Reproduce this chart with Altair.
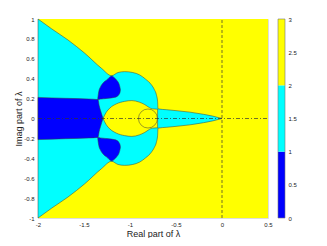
import altair as alt
import pandas as pd

# ---- data ----
# outer cyan region, upper boundary (lower boundary is its mirror image)
outer_x = [-2.0, -1.85, -1.674, -1.492, -1.311, -1.2, -1.13, -1.058, -0.97, -0.895,
           -0.83, -0.767, -0.735, -0.713, -0.70, -0.696, -0.6, -0.5, -0.35, -0.2, -0.1, 0.0]
outer_y = [1.0, 0.9, 0.789, 0.656, 0.505, 0.43, 0.462, 0.471, 0.462, 0.438,
           0.395, 0.338, 0.29, 0.238, 0.17, 0.097, 0.088, 0.079, 0.064, 0.042, 0.024, 0.0]

# inner yellow lens, upper boundary
inner_x = [-1.293, -1.26, -1.22, -1.148, -1.06, -0.98, -0.9, -0.84, -0.79, -0.76, -0.70]
inner_y = [0.0, 0.06, 0.104, 0.147, 0.172, 0.18, 0.165, 0.14, 0.11, 0.097, 0.094]

# dark blue strip, upper boundary
strip_x = [-2.0, -1.7, -1.45, -1.348, -1.335, -1.32, -1.293]
strip_y = [0.212, 0.203, 0.196, 0.19, 0.13, 0.08, 0.0]

# dark blue lobes (upper one; lower one mirrored)
blob_x = [-1.35, -1.34, -1.32, -1.29, -1.25, -1.2, -1.17, -1.14, -1.12, -1.108, -1.104]
blob_top = [0.205, 0.27, 0.32, 0.36, 0.39, 0.428, 0.41, 0.38, 0.35, 0.31, 0.288]
blob_bot = [0.19, 0.192, 0.195, 0.198, 0.202, 0.207, 0.212, 0.222, 0.24, 0.265, 0.288]

# small circle
circle_x = [-0.805]
circle_y = [0.0]

# colorbar bands
cb_lo = [0, 1, 2]
cb_hi = [1, 2, 3]
cb_col = ["#0000FF", "#00FFFF", "#FFFF00"]

x_ticks = [-2, -1.5, -1, -0.5, 0, 0.5]
y_ticks = [-1, -0.8, -0.6, -0.4, -0.2, 0, 0.2, 0.4, 0.6, 0.8, 1]
cb_ticks = [0, 0.5, 1, 1.5, 2, 2.5, 3]

BLUE, CYAN, YELLOW = "#0000FF", "#00FFFF", "#FFFF00"
EDGE = "#3a3a3a"
FONT = "Liberation Sans"
INTERP = "monotone"

xs = alt.Scale(domain=[-2, 0.5], nice=False, zero=False)
ys = alt.Scale(domain=[-1, 1], nice=False, zero=False)

common_axis = dict(ticks=False, domain=False, labelExpr="datum.value + ''",
                   labelFontSize=6, labelColor="#222", labelFont=FONT,
                   labelOverlap=False, labelFlush=False, grid=False,
                   titleFontSize=9, titleFontWeight="normal", titleColor="#222",
                   titleFont=FONT)
x_axis = alt.Axis(values=x_ticks, title="Real part of λ", labelPadding=3, titlePadding=2,
                  **common_axis)
y_axis = alt.Axis(values=y_ticks, title="Imag part of λ", labelPadding=4, titlePadding=0,
                  **common_axis)


def X(field):
    return alt.X(field, type="quantitative", scale=xs, axis=x_axis)


def Y(field):
    return alt.Y(field, type="quantitative", scale=ys, axis=y_axis)


bg_df = pd.DataFrame({"x": [-2], "x2": [0.5], "y": [-1], "y2": [1]})
bg = alt.Chart(bg_df).mark_rect(fill=YELLOW, strokeWidth=0).encode(
    x=X("x"), x2="x2", y=Y("y"), y2="y2")

outer_df = pd.DataFrame({"x": outer_x, "t": outer_y, "b": [-v for v in outer_y]})
outer = alt.Chart(outer_df).mark_area(fill=CYAN, stroke=EDGE, strokeWidth=0.5, fillOpacity=1,
                                      interpolate=INTERP).encode(
    x=X("x"), y=Y("t"), y2="b")

inner_df = pd.DataFrame({"x": inner_x, "t": inner_y, "b": [-v for v in inner_y]})
inner = alt.Chart(inner_df).mark_area(fill=YELLOW, stroke=EDGE, strokeWidth=0.5, fillOpacity=1,
                                      interpolate=INTERP).encode(
    x=X("x"), y=Y("t"), y2="b")

strip_df = pd.DataFrame({"x": strip_x, "t": strip_y, "b": [-v for v in strip_y]})
strip = alt.Chart(strip_df).mark_area(fill=BLUE, stroke=EDGE, strokeWidth=0.5, fillOpacity=1,
                                      interpolate=INTERP).encode(
    x=X("x"), y=Y("t"), y2="b")

blob_df = pd.concat([
    pd.DataFrame({"x": blob_x, "t": blob_top, "b": blob_bot, "part": "up"}),
    pd.DataFrame({"x": blob_x, "t": [-v for v in blob_top], "b": [-v for v in blob_bot], "part": "down"}),
])
blobs = alt.Chart(blob_df).mark_area(fill=BLUE, stroke=EDGE, strokeWidth=0.5, fillOpacity=1,
                                     interpolate=INTERP).encode(
    x=X("x"), y=Y("t"), y2="b", detail="part:N")

circ_df = pd.DataFrame({"x": circle_x, "y": circle_y})
circ = alt.Chart(circ_df).mark_point(shape="circle", filled=False, size=361, stroke=EDGE,
                                     strokeWidth=0.5, opacity=1).encode(
    x=X("x"), y=Y("y"))

hline = alt.Chart(pd.DataFrame({"x": [-2], "x2": [0.5], "y": [0]})).mark_rule(
    color="#333", strokeWidth=0.7, strokeDash=[4, 2, 1, 2]).encode(
    x=X("x"), x2="x2", y=Y("y"))
vline = alt.Chart(pd.DataFrame({"x": [0], "y": [-1], "y2": [1]})).mark_rule(
    color="#333", strokeWidth=0.7, strokeDash=[3, 2]).encode(
    x=X("x"), y=Y("y"), y2="y2")

main = alt.layer(bg, outer, inner, strip, blobs, circ, hline, vline)

cb_df = pd.DataFrame({"lo": cb_lo, "hi": cb_hi, "c": cb_col})
cb_axis = alt.Axis(values=cb_ticks, orient="right", offset=17, title=None, labelPadding=3,
                   **{k: v for k, v in common_axis.items() if not k.startswith("title")})
cbs = alt.Scale(domain=[0, 3], nice=False, zero=False)
cbar = alt.Chart(cb_df).mark_rect(strokeWidth=0).encode(
    x=alt.value(240), x2=alt.value(247),
    y=alt.Y("lo:Q", scale=cbs, axis=cb_axis), y2="hi",
    fill=alt.Fill("c:N", scale=None))
cb_box = alt.Chart(pd.DataFrame({"lo": [0], "hi": [3]})).mark_rect(
    fill=None, stroke="#777", strokeWidth=0.6).encode(
    x=alt.value(240), x2=alt.value(247), y=alt.Y("lo:Q", scale=cbs, axis=cb_axis), y2="hi")
cb_layer = alt.layer(cbar, cb_box)

chart = alt.layer(main, cb_layer).resolve_scale(y="independent").properties(
    width=230, height=199,
    autosize=alt.AutoSizeParams(type="none"),
    padding={"left": 30, "top": 11, "right": 51, "bottom": 20},
).configure_axis(labelOverlap=False).configure_view(
    stroke="#888", strokeWidth=0.5).configure(background="white")

chart.save("out.html", embed_options={"renderer": "svg", "actions": False})
